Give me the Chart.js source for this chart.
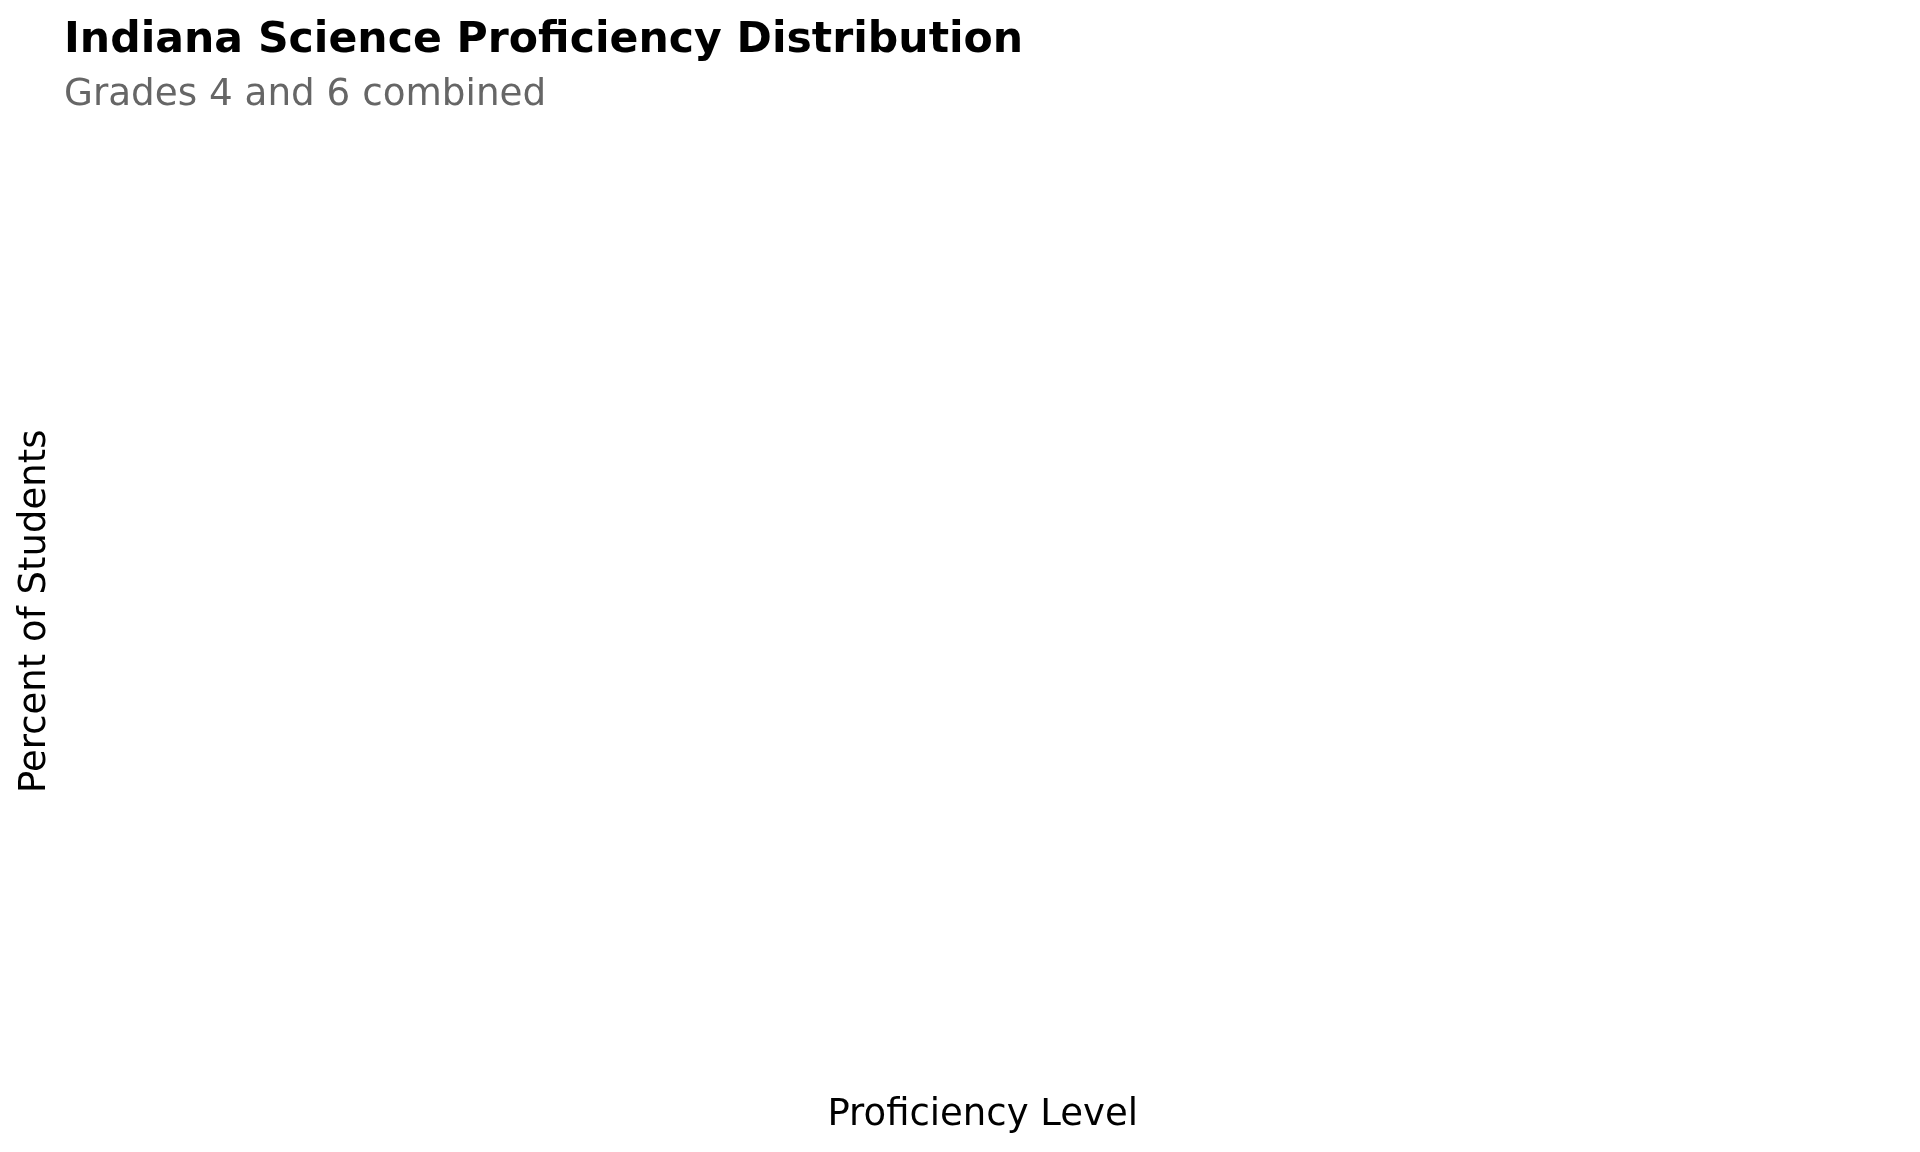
<!DOCTYPE html>
<html>
<head>
<meta charset="utf-8">
<title>Indiana Science Proficiency Distribution</title>
<script src="https://cdn.jsdelivr.net/npm/chart.js@4/dist/chart.umd.min.js"></script>
<style>
  html, body { margin: 0; padding: 0; background: #ffffff; }
  #wrap { width: 1920px; height: 1152px; }
</style>
</head>
<body>
<div id="wrap"><canvas id="grafica" width="1920" height="1152"></canvas></div>
<script>
// Datos: el gráfico de referencia no muestra ninguna barra ni categoría
const proficiencyLevels = [];
const percentStudents = [];

const titleText = 'Indiana Science Proficiency Distribution';
const subtitleText = 'Grades 4 and 6 combined';
const xTitle = 'Proficiency Level';
const yTitle = 'Percent of Students';

const FONT = '"DejaVu Sans", Verdana, sans-serif';

function dibujarGrafica() {
    const canvas = document.getElementById('grafica');
    if (!canvas) return;

    new Chart(canvas, {
        type: 'bar',
        data: {
            labels: proficiencyLevels,
            datasets: [
                {
                    label: yTitle,
                    data: percentStudents,
                    backgroundColor: '#4c72b0',
                },
            ],
        },
        options: {
            responsive: false,
            animation: false,
            devicePixelRatio: 1,
            layout: { padding: { left: 64, right: 75, top: 0, bottom: 0 } },
            plugins: {
                legend: { display: false },
                tooltip: { enabled: false },
                title: {
                    display: true,
                    text: titleText,
                    align: 'start',
                    color: '#000000',
                    font: { family: FONT, size: 42.6, weight: 'bold' },
                    padding: { top: 15, bottom: 7 },
                },
                subtitle: {
                    display: true,
                    text: subtitleText,
                    align: 'start',
                    color: '#666666',
                    font: { family: FONT, size: 37.3, weight: 'normal' },
                    padding: { top: 0, bottom: 11 },
                },
            },
            scales: {
                x: {
                    type: 'category',
                    ticks: { display: false },
                    grid: { display: false, drawTicks: false },
                    border: { display: false },
                    title: {
                        display: true,
                        text: xTitle,
                        color: '#000000',
                        font: { family: FONT, size: 37 },
                        padding: { top: 0, bottom: 14 },
                    },
                },
                y: {
                    beginAtZero: true,
                    ticks: { display: false },
                    grid: { display: false, drawTicks: false },
                    border: { display: false },
                    title: {
                        display: true,
                        text: yTitle,
                        color: '#000000',
                        font: { family: FONT, size: 37 },
                        padding: { top: -50.5, bottom: 62.5 },
                    },
                },
            },
        },
    });
}

dibujarGrafica();
</script>
</body>
</html>
